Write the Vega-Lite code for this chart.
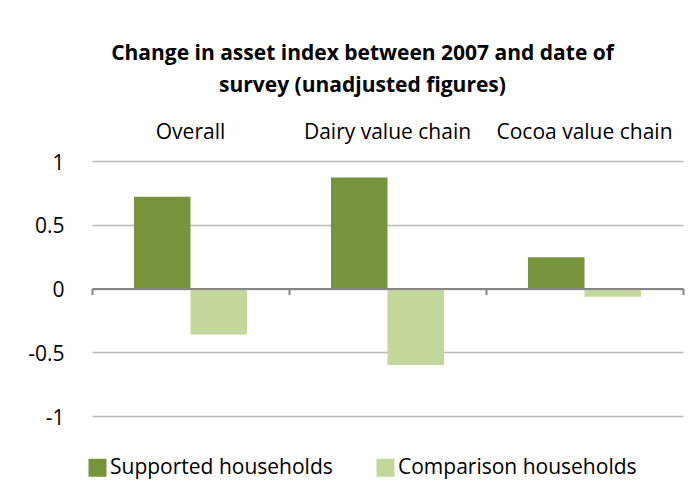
{
  "$schema": "https://vega.github.io/schema/vega-lite/v6.json",
  "width": 591,
  "height": 255,
  "autosize": {"type": "none"},
  "padding": {"left": 92, "top": 161, "right": 17, "bottom": 83},
  "background": "white",
  "config": {"view": {"stroke": null}, "font": "Open Sans"},
  "title": {
    "text": ["Change in asset index between 2007 and date of", "survey (unadjusted figures)"],
    "fontSize": 21,
    "fontWeight": "bold",
    "font": "Open Sans",
    "lineHeight": 32,
    "anchor": "middle",
    "color": "black",
    "dx": -25,
    "offset": 25
  },
  "data": {
    "values": [
      {"category": "Overall", "group": "Supported households", "value": 0.72},
      {"category": "Overall", "group": "Comparison households", "value": -0.36},
      {"category": "Dairy value chain", "group": "Supported households", "value": 0.87},
      {"category": "Dairy value chain", "group": "Comparison households", "value": -0.6},
      {"category": "Cocoa value chain", "group": "Supported households", "value": 0.245},
      {"category": "Cocoa value chain", "group": "Comparison households", "value": -0.065}
    ]
  },
  "layer": [
    {
      "mark": {"type": "bar"},
      "encoding": {
        "x": {
          "field": "category",
          "type": "nominal",
          "sort": ["Overall", "Dairy value chain", "Cocoa value chain"],
          "scale": {"paddingInner": 0.426, "paddingOuter": 0.213},
          "axis": {
            "orient": "top",
            "title": null,
            "domain": false,
            "ticks": false,
            "labelAngle": 0,
            "labelFontSize": 21,
            "labelColor": "black",
            "labelPadding": 19,
            "labelLimit": 0
          }
        },
        "xOffset": {
          "field": "group",
          "type": "nominal",
          "sort": ["Supported households", "Comparison households"],
          "scale": {"paddingInner": 0, "paddingOuter": 0}
        },
        "y": {
          "field": "value",
          "type": "quantitative",
          "scale": {"domain": [-1, 1], "nice": false, "zero": false},
          "axis": {
            "title": null,
            "values": [-1, -0.5, 0, 0.5, 1],
            "labelExpr": "toString(datum.value)",
            "domain": false,
            "ticks": false,
            "labelFontSize": 21,
            "labelColor": "black",
            "labelPadding": 28,
            "labelOffset": 2,
            "gridColor": "#BBBBBB",
            "gridWidth": 1.5
          }
        },
        "color": {
          "field": "group",
          "type": "nominal",
          "sort": ["Supported households", "Comparison households"],
          "scale": {"range": ["#77933C", "#C3D69B"]},
          "legend": {
            "title": null,
            "orient": "none",
            "legendX": -5,
            "legendY": 296,
            "direction": "horizontal",
            "symbolType": "square",
            "symbolSize": 324,
            "symbolStrokeWidth": 0,
            "labelFontSize": 21,
            "labelColor": "black",
            "labelOffset": 2,
            "labelLimit": 0,
            "columnPadding": 42
          }
        }
      }
    },
    {
      "mark": {"type": "bar", "opacity": 0},
      "encoding": {
        "x": {
          "field": "category",
          "type": "nominal",
          "sort": ["Overall", "Dairy value chain", "Cocoa value chain"],
          "scale": {"paddingInner": 0, "paddingOuter": 0},
          "axis": {
            "orient": "bottom",
            "offset": -127.5,
            "title": null,
            "labels": false,
            "grid": false,
            "domainColor": "#868686",
            "domainWidth": 2,
            "tickColor": "#868686",
            "tickWidth": 2,
            "tickSize": 6,
            "tickBand": "extent",
            "zindex": 1
          }
        },
        "y": {"field": "value", "type": "quantitative"}
      }
    }
  ],
  "resolve": {"scale": {"x": "independent"}, "axis": {"x": "independent"}}
}
